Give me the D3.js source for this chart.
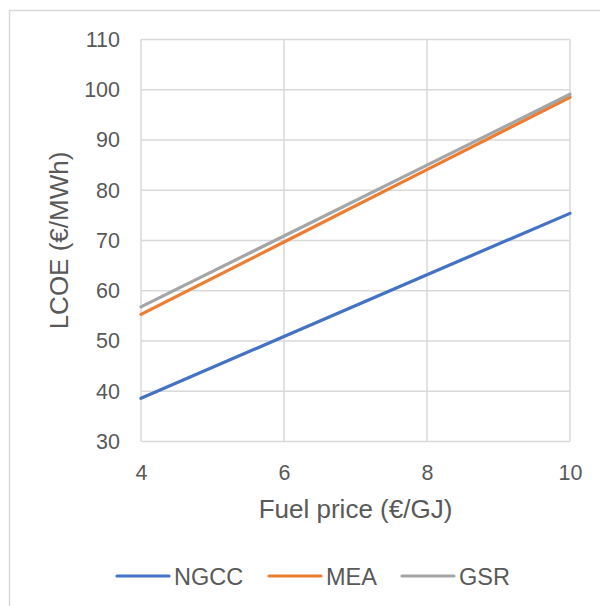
<!DOCTYPE html>
<html>
<head>
<meta charset="utf-8">
<script src="https://cdn.jsdelivr.net/npm/d3@7"></script>
<style>
  html, body { margin: 0; padding: 0; background: #fff; }
  svg { display: block; }
  text { font-family: "Liberation Sans", Arial, sans-serif; fill: #595959; }
</style>
</head>
<body>
<svg id="chart" width="600" height="606"></svg>
<script>
// Fuel price (€/GJ) and levelised cost of electricity (€/MWh) per technology
const fuelPrice = [4, 6, 8, 10];
const ngcc = [38.6, 50.9, 63.2, 75.4];
const mea  = [55.3, 69.7, 84.1, 98.5];
const gsr  = [56.8, 70.9, 85.0, 99.1];
const seriesNames = ["NGCC", "MEA", "GSR"];
const xTicks = [4, 6, 8, 10];
const yTicks = [30, 40, 50, 60, 70, 80, 90, 100, 110];

const series = [
  { name: seriesNames[0], values: ngcc, color: "#4472C4" },
  { name: seriesNames[1], values: mea,  color: "#ED7D31" },
  { name: seriesNames[2], values: gsr,  color: "#A5A5A5" }
];

const svg = d3.select("#chart");

// outer chart frame
svg.append("rect")
  .attr("x", 9.5).attr("y", 10.5)
  .attr("width", 600).attr("height", 600)
  .attr("fill", "none").attr("stroke", "#d9d9d9").attr("stroke-width", 1.5);

const plot = { left: 141, right: 570, top: 39.5, bottom: 441.5 };

const x = d3.scaleLinear().domain([4, 10]).range([plot.left, plot.right]);
const y = d3.scaleLinear().domain([30, 110]).range([plot.bottom, plot.top]);

// gridlines
const grid = svg.append("g");
grid.selectAll("line.h").data(yTicks).join("line")
  .attr("x1", plot.left).attr("x2", plot.right)
  .attr("y1", d => y(d)).attr("y2", d => y(d))
  .attr("stroke", "#d9d9d9").attr("stroke-width", 1.5);
grid.selectAll("line.v").data(xTicks).join("line")
  .attr("x1", d => x(d)).attr("x2", d => x(d))
  .attr("y1", plot.top).attr("y2", plot.bottom)
  .attr("stroke", "#d9d9d9").attr("stroke-width", 1.5);

// axes (labels only; the grid provides the lines)
const tickFont = g => g.selectAll("text")
  .attr("font-size", null).attr("font-family", null)
  .style("font-size", "21.5px").attr("fill", "#595959");

const yAxis = d3.axisLeft(y).tickValues(yTicks).tickFormat(d3.format("d"))
  .tickSize(0).tickPadding(21);
svg.append("g").attr("transform", `translate(${plot.left},0)`).call(yAxis)
  .attr("font-size", null).attr("font-family", null)
  .call(g => g.select(".domain").remove())
  .call(tickFont);

const xAxis = d3.axisBottom(x).tickValues(xTicks).tickFormat(d3.format("d"))
  .tickSize(0).tickPadding(23);
svg.append("g").attr("transform", `translate(0,${plot.bottom})`).call(xAxis)
  .attr("font-size", null).attr("font-family", null)
  .call(g => g.select(".domain").remove())
  .call(tickFont);

// axis titles
svg.append("text")
  .attr("x", (plot.left + plot.right) / 2).attr("y", 518)
  .attr("text-anchor", "middle").style("font-size", "26px")
  .text("Fuel price (€/GJ)");

svg.append("text")
  .attr("transform", `translate(68,${(plot.top + plot.bottom) / 2}) rotate(-90)`)
  .attr("text-anchor", "middle").style("font-size", "26px")
  .text("LCOE (€/MWh)");

// series lines
const line = d3.line()
  .x((d, i) => x(fuelPrice[i]))
  .y(d => y(d));

svg.append("g").selectAll("path").data(series).join("path")
  .attr("d", d => line(d.values))
  .attr("fill", "none")
  .attr("stroke", d => d.color)
  .attr("stroke-width", 3.2)
  .attr("stroke-linecap", "round");

// legend
const legendX = [117, 269, 402];
const legend = svg.append("g").selectAll("g").data(series).join("g")
  .attr("transform", (d, i) => `translate(${legendX[i]},576)`);
legend.append("line")
  .attr("x1", 0).attr("x2", 52).attr("y1", 0).attr("y2", 0)
  .attr("stroke", d => d.color).attr("stroke-width", 3.2)
  .attr("stroke-linecap", "round");
legend.append("text")
  .attr("x", 57).attr("y", 8.5)
  .style("font-size", "23.5px")
  .text(d => d.name);
</script>
</body>
</html>
